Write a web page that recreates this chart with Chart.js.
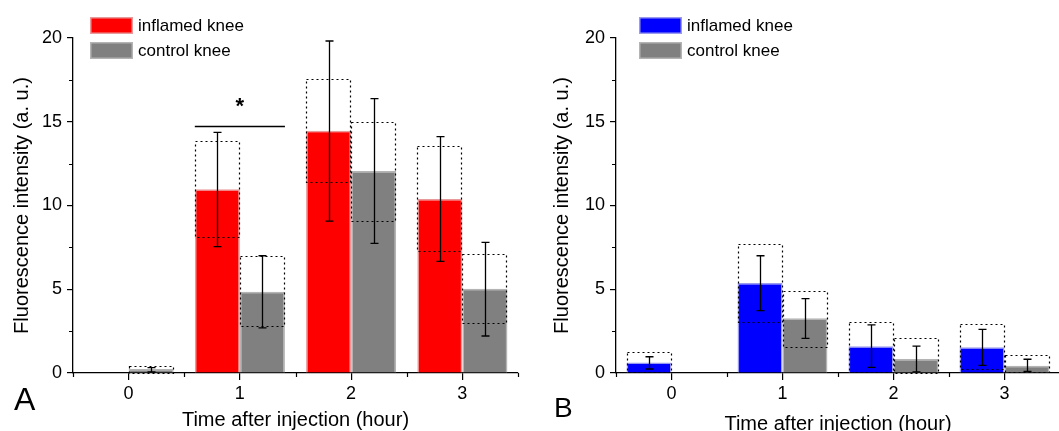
<!DOCTYPE html>
<html>
<head>
<meta charset="utf-8">
<script src="https://cdn.jsdelivr.net/npm/chart.js@4.4.1/dist/chart.umd.min.js"></script>
<style>
  html, body { margin: 0; padding: 0; background: #fff; overflow: hidden; width: 1059px; height: 431px; }
  #chartA { position: absolute; left: 0; top: 0; }
  #chartB { position: absolute; left: 530px; top: 0; }
</style>
</head>
<body>
<canvas id="chartA" width="530" height="431"></canvas>
<canvas id="chartB" width="530" height="431"></canvas>
<script>
// categories and axis
const hours = ['0', '1', '2', '3'];
const yMinorTicks = [2.5, 7.5, 12.5, 17.5];

// panel A: bar means, dotted boxes, error bars
const aInflamed      = [null, 10.97, 14.47, 10.39];
const aInflamedBoxLo = [null, 8.1, 11.4, 7.3];
const aInflamedBoxHi = [null, 13.83, 17.57, 13.57];
const aInflamedErrLo = [null, 7.54, 9.07, 6.67];
const aInflamedErrHi = [null, 14.37, 19.82, 14.11];

const aControl      = [0.24, 4.85, 12.06, 5.03];
const aControlBoxLo = [0.04, 2.76, 9.11, 2.97];
const aControlBoxHi = [0.43, 6.96, 15.0, 7.08];
const aControlErrLo = [0.06, 2.7, 7.74, 2.21];
const aControlErrHi = [0.32, 7.0, 16.38, 7.8];

// panel B
const bInflamed      = [0.62, 5.37, 1.59, 1.53];
const bInflamedBoxLo = [0.06, 3.06, 0.1, 0.24];
const bInflamedBoxHi = [1.25, 7.72, 3.06, 2.93];
const bInflamedErrLo = [0.24, 3.72, 0.34, 0.46];
const bInflamedErrHi = [0.97, 7.0, 2.87, 2.61];

const bControl      = [null, 3.27, 0.84, 0.44];
const bControlBoxLo = [null, 1.59, 0.05, 0.03];
const bControlBoxHi = [null, 4.91, 2.11, 1.07];
const bControlErrLo = [null, 2.07, 0.07, 0.1];
const bControlErrHi = [null, 4.44, 1.61, 0.82];

// significance marker in panel A (category index, line value, star value)
const aSignif = { index: 1, line: 14.77, star: 16.1 };

const FONT = "'Liberation Sans', Arial, sans-serif";
Chart.defaults.font.family = FONT;
Chart.defaults.color = '#000';

const extras = {
  id: 'extras',
  afterDatasetsDraw(chart, args, o) {
    const ctx = chart.ctx;
    const y = chart.scales.y;
    ctx.save();
    o.series.forEach((s, i) => {
      const meta = chart.getDatasetMeta(i);
      meta.data.forEach((bar, j) => {
        if (s.boxLo[j] == null) return;
        const l = bar.x - bar.width / 2, r = bar.x + bar.width / 2;
        const top = y.getPixelForValue(s.boxHi[j]), bot = y.getPixelForValue(s.boxLo[j]);
        ctx.setLineDash([2, 3]);
        ctx.strokeStyle = '#000';
        ctx.lineWidth = 1.2;
        ctx.strokeRect(Math.round(l) + 0.5, Math.round(top) + 0.5, Math.round(r - l) - 1, Math.round(bot - top));
        ctx.setLineDash([]);
        const e1 = y.getPixelForValue(s.errHi[j]), e2 = y.getPixelForValue(s.errLo[j]);
        const cx = Math.round(bar.x) + 0.5;
        ctx.lineWidth = 1.3;
        ctx.beginPath();
        ctx.moveTo(cx, e1); ctx.lineTo(cx, e2);
        ctx.moveTo(cx - 4, e1); ctx.lineTo(cx + 4, e1);
        ctx.moveTo(cx - 4, e2); ctx.lineTo(cx + 4, e2);
        ctx.stroke();
      });
    });
    if (o.signif) {
      const g = o.signif;
      const m0 = chart.getDatasetMeta(0).data[g.index];
      const m1 = chart.getDatasetMeta(1).data[g.index];
      const l = m0.x - m0.width / 2, r = m1.x + m1.width / 2;
      const ly = Math.round(y.getPixelForValue(g.line)) + 0.5;
      ctx.lineWidth = 1.5;
      ctx.beginPath(); ctx.moveTo(l, ly); ctx.lineTo(r, ly); ctx.stroke();
      ctx.font = 'bold 22px ' + FONT;
      ctx.textAlign = 'center';
      ctx.textBaseline = 'middle';
      ctx.fillStyle = '#000';
      ctx.fillText('*', (l + r) / 2, y.getPixelForValue(g.star) + 4);
    }
    ctx.restore();
  },
  afterDraw(chart, args, o) {
    const ctx = chart.ctx;
    const x = chart.scales.x, y = chart.scales.y;
    const area = chart.chartArea;
    ctx.save();
    ctx.strokeStyle = '#000';
    ctx.lineWidth = 1.2;
    // minor ticks
    ctx.beginPath();
    yMinorTicks.forEach(v => {
      const py = Math.round(y.getPixelForValue(v)) + 0.5;
      ctx.moveTo(area.left - 4, py); ctx.lineTo(area.left, py);
    });
    const step = x.getPixelForValue(1) - x.getPixelForValue(0);
    for (let k = 0; k <= hours.length; k++) {
      const px = Math.round(x.getPixelForValue(0) - step / 2 + k * step) + 0.5;
      ctx.moveTo(px, area.bottom); ctx.lineTo(px, area.bottom + 4);
    }
    ctx.stroke();
    // legend
    ctx.font = '17px ' + FONT;
    ctx.textBaseline = 'middle';
    ctx.textAlign = 'left';
    chart.data.datasets.forEach((ds, i) => {
      const bx = area.left + o.legendX, by = 17 + i * 25;
      ctx.fillStyle = ds.backgroundColor;
      ctx.fillRect(bx, by, 43, 17);
      ctx.strokeStyle = ds.borderColor;
      ctx.lineWidth = 1.5;
      ctx.strokeRect(bx + 0.75, by + 0.75, 41.5, 15.5);
      ctx.fillStyle = '#000';
      ctx.fillText(ds.label, bx + 48, by + 9);
    });
    // panel letter
    ctx.font = o.letterSize + 'px ' + FONT;
    ctx.textBaseline = 'alphabetic';
    ctx.fillText(o.letter, o.letterX, o.letterY);
    ctx.restore();
  }
};

function makeChart(id, cfg) {
  return new Chart(document.getElementById(id), {
    type: 'bar',
    data: {
      labels: hours,
      datasets: [
        { label: 'inflamed knee', data: cfg.inflamed, backgroundColor: cfg.color, borderColor: cfg.edge, borderWidth: 1.5, borderSkipped: 'bottom' },
        { label: 'control knee', data: cfg.control, backgroundColor: '#808080', borderColor: '#b4b4b4', borderWidth: 1.5, borderSkipped: 'bottom' }
      ]
    },
    options: {
      responsive: false,
      animation: false,
      categoryPercentage: 0.81,
      barPercentage: 1.0,
      layout: { padding: { top: 38, right: cfg.padRight, bottom: 0, left: 0 } },
      plugins: {
        legend: { display: false },
        tooltip: { enabled: false },
        extras: {
          series: cfg.series,
          signif: cfg.signif,
          legendX: cfg.legendX,
          letter: cfg.letter, letterX: cfg.letterX, letterY: cfg.letterY, letterSize: cfg.letterSize
        }
      },
      scales: {
        x: {
          ticks: { color: '#000', font: { size: 18 }, padding: 3 },
          grid: { offset: false, drawOnChartArea: false, tickLength: 7, color: '#000', lineWidth: 1.2 },
          border: { display: true, color: '#000', width: 1.3 },
          title: { display: true, text: 'Time after injection (hour)', color: '#000', font: { size: 20 }, padding: { top: 0, bottom: cfg.xTitlePad } },
          afterFit(s) { s.height = 58; }
        },
        y: {
          min: 0, max: 20,
          ticks: { stepSize: 5, color: '#000', font: { size: 18 }, padding: 5 },
          grid: { drawOnChartArea: false, tickLength: 6, color: '#000', lineWidth: 1.2 },
          border: { display: true, color: '#000', width: 1.3 },
          title: { display: true, text: 'Fluorescence intensity (a. u.)', color: '#000', font: { size: 20 }, padding: { top: cfg.yTitlePad, bottom: 0 } },
          afterFit(s) { s.width = cfg.yWidth; }
        }
      }
    },
    plugins: [extras]
  });
}

makeChart('chartA', {
  inflamed: aInflamed, control: aControl,
  color: '#ff0000', edge: '#e89a9a',
  series: [
    { boxLo: aInflamedBoxLo, boxHi: aInflamedBoxHi, errLo: aInflamedErrLo, errHi: aInflamedErrHi },
    { boxLo: aControlBoxLo, boxHi: aControlBoxHi, errLo: aControlErrLo, errHi: aControlErrHi }
  ],
  signif: aSignif,
  padRight: 12, yWidth: 73, yTitlePad: 10, xTitlePad: -1,
  legendX: 17, letter: 'A', letterX: 14, letterY: 410, letterSize: 32
});

makeChart('chartB', {
  inflamed: bInflamed, control: bControl,
  color: '#0000ff', edge: '#9a9aee',
  series: [
    { boxLo: bInflamedBoxLo, boxHi: bInflamedBoxHi, errLo: bInflamedErrLo, errHi: bInflamedErrHi },
    { boxLo: bControlBoxLo, boxHi: bControlBoxHi, errLo: bControlErrLo, errHi: bControlErrHi }
  ],
  signif: null,
  padRight: 0, yWidth: 86, yTitlePad: 20, xTitlePad: -5,
  legendX: 23, letter: 'B', letterX: 24, letterY: 417, letterSize: 28
});
</script>
</body>
</html>
